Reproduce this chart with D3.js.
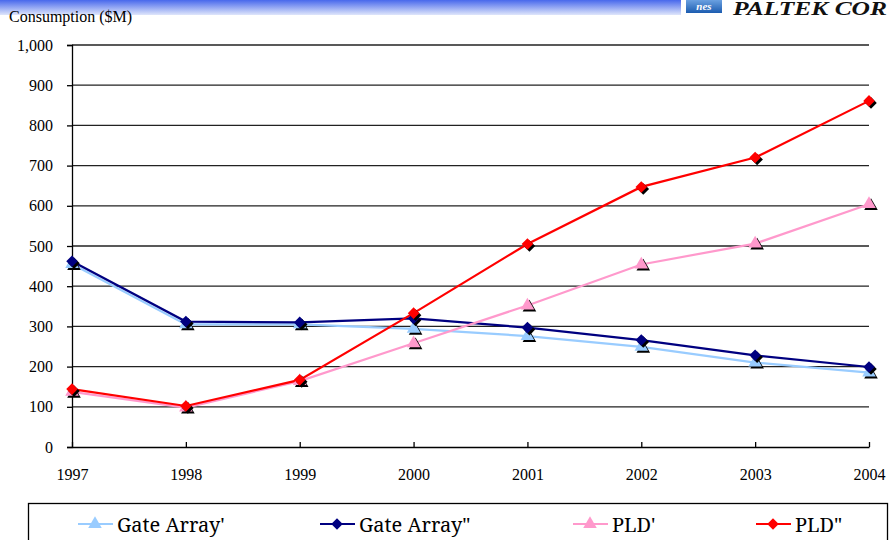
<!DOCTYPE html>
<html>
<head>
<meta charset="utf-8">
<script src="https://cdn.jsdelivr.net/npm/d3@7/dist/d3.min.js"></script>
<style>
  body { margin: 0; background: #fff; }
  svg text { font-family: "Liberation Serif", "Times New Roman", serif; }
  svg .legend text { font-family: "Noto Serif", "DejaVu Serif", serif; }
</style>
</head>
<body>
<div id="chart"></div>
<script>
var years = ['1997', '1998', '1999', '2000', '2001', '2002', '2003', '2004'];
var yTicks = [0, 100, 200, 300, 400, 500, 600, 700, 800, 900, 1000];
var gateArrayA = [455, 305, 305, 294, 276, 249, 210, 185];
var gateArrayB = [462, 312, 310, 320, 297, 266, 228, 199];
var pldA = [137, 98, 164, 258, 352, 454, 506, 604];
var pldB = [144, 102, 167, 333, 505, 647, 720, 861];
var seriesNames = ["Gate Array'", 'Gate Array"', "PLD'", 'PLD"'];

var series = [
  {name: seriesNames[0], values: gateArrayA, color: '#99ccff', shape: 'triangle'},
  {name: seriesNames[1], values: gateArrayB, color: '#000080', shape: 'diamond'},
  {name: seriesNames[2], values: pldA, color: '#ff99cc', shape: 'triangle'},
  {name: seriesNames[3], values: pldB, color: '#ff0000', shape: 'diamond'}
];

var width = 891, height = 540;
var serif = '"Liberation Serif", "Times New Roman", serif';

var svg = d3.select('#chart').append('svg')
  .attr('width', width)
  .attr('height', height)
  .style('font-family', serif);

// top banner
var defs = svg.append('defs');
var grad = defs.append('linearGradient')
  .attr('id', 'band').attr('x1', 0).attr('y1', 0).attr('x2', 0).attr('y2', 1);
grad.append('stop').attr('offset', '0%').attr('stop-color', '#4868ec');
grad.append('stop').attr('offset', '100%').attr('stop-color', '#dfe6fb');
var grad2 = defs.append('linearGradient')
  .attr('id', 'logo').attr('x1', 0).attr('y1', 0).attr('x2', 0).attr('y2', 1);
grad2.append('stop').attr('offset', '0%').attr('stop-color', '#6aa0e0');
grad2.append('stop').attr('offset', '100%').attr('stop-color', '#1c5cb0');

svg.append('rect').attr('x', 0).attr('y', 0).attr('width', 681).attr('height', 15)
  .attr('fill', 'url(#band)');
svg.append('rect').attr('x', 686).attr('y', 0).attr('width', 36).attr('height', 13)
  .attr('fill', 'url(#logo)');
svg.append('text').attr('x', 704).attr('y', 10)
  .attr('text-anchor', 'middle').attr('fill', '#fff')
  .style('font-size', '11px').style('font-style', 'italic').style('font-weight', 'bold')
  .text('nes');
svg.append('text').attr('x', 733).attr('y', 15)
  .attr('fill', '#111')
  .attr('textLength', 154).attr('lengthAdjust', 'spacingAndGlyphs')
  .style('font-size', '19px').style('font-style', 'italic').style('font-weight', 'bold')
  .text('PALTEK COR');

svg.append('text').attr('x', 9).attr('y', 22)
  .style('font-size', '16px').attr('fill', '#000')
  .text('Consumption ($M)');

var x = d3.scalePoint().domain(years).range([72, 869]);
var y = d3.scaleLinear().domain([0, 1000]).range([447, 45]);

// gridlines
svg.append('g').selectAll('line')
  .data(yTicks.slice(1))
  .enter().append('line')
  .attr('x1', 72).attr('x2', x('2004'))
  .attr('y1', function(d) { return y(d); }).attr('y2', function(d) { return y(d); })
  .attr('stroke', '#222').attr('stroke-width', 1.3);

var yAxis = d3.axisLeft(y).tickValues(yTicks).tickSize(5).tickPadding(14)
  .tickFormat(d3.format(','));
var gy = svg.append('g').attr('transform', 'translate(72,0)').call(yAxis)
  .attr('font-family', serif);
gy.selectAll('text').style('font-size', '16px').attr('fill', '#000');
gy.selectAll('line').attr('stroke', '#000').attr('stroke-width', 1.3);
gy.select('.domain').attr('stroke', '#000').attr('stroke-width', 1.3);

var xAxis = d3.axisBottom(x).tickSizeInner(-5).tickSizeOuter(0).tickPadding(22);
var gx = svg.append('g').attr('transform', 'translate(0,' + y(0) + ')').call(xAxis)
  .attr('font-family', serif);
gx.selectAll('text').style('font-size', '16px').attr('fill', '#000');
gx.selectAll('line').attr('stroke', '#000').attr('stroke-width', 1.3);
gx.select('.domain').attr('stroke', '#000').attr('stroke-width', 1.3);

var line = d3.line()
  .x(function(d, i) { return x(years[i]); })
  .y(function(d) { return y(d); });

function markerPath(shape) {
  if (shape === 'diamond') return d3.symbol().type(d3.symbolDiamond2).size(85)();
  return d3.symbol().type(d3.symbolTriangle).size(80)();
}

series.forEach(function(s) {
  svg.append('path').datum(s.values)
    .attr('d', line)
    .attr('fill', 'none')
    .attr('stroke', s.color)
    .attr('stroke-width', 2.2);
});

series.forEach(function(s) {
  var g = svg.append('g');
  var p = markerPath(s.shape);
  g.selectAll('.shadow').data(s.values).enter().append('path')
    .attr('class', 'shadow')
    .attr('d', p)
    .attr('transform', function(d, i) { return 'translate(' + (x(years[i]) + 2) + ',' + (y(d) + 2) + ')'; })
    .attr('fill', '#000');
  g.selectAll('.mark').data(s.values).enter().append('path')
    .attr('class', 'mark')
    .attr('d', p)
    .attr('transform', function(d, i) { return 'translate(' + x(years[i]) + ',' + y(d) + ')'; })
    .attr('fill', s.color);
});

// legend
svg.append('rect')
  .attr('x', 28.5).attr('y', 503.5).attr('width', 859).attr('height', 60)
  .attr('fill', '#fff').attr('stroke', '#000').attr('stroke-width', 1.3);

var legendX = [78, 320, 573, 756];
var legend = svg.selectAll('.legend')
  .data(series)
  .enter().append('g')
  .attr('class', 'legend')
  .attr('transform', function(d, i) { return 'translate(' + legendX[i] + ',524)'; });

legend.append('line')
  .attr('x1', 0).attr('x2', 35).attr('y1', 0).attr('y2', 0)
  .attr('stroke', function(d) { return d.color; }).attr('stroke-width', 2.2);
legend.append('path')
  .attr('d', function(d) { return markerPath(d.shape); })
  .attr('transform', 'translate(17,0)')
  .attr('fill', function(d) { return d.color; });
legend.append('text')
  .attr('x', 39).attr('y', 8)
  .style('font-size', '20px').attr('fill', '#000')
  .text(function(d) { return d.name; });
</script>
</body>
</html>
